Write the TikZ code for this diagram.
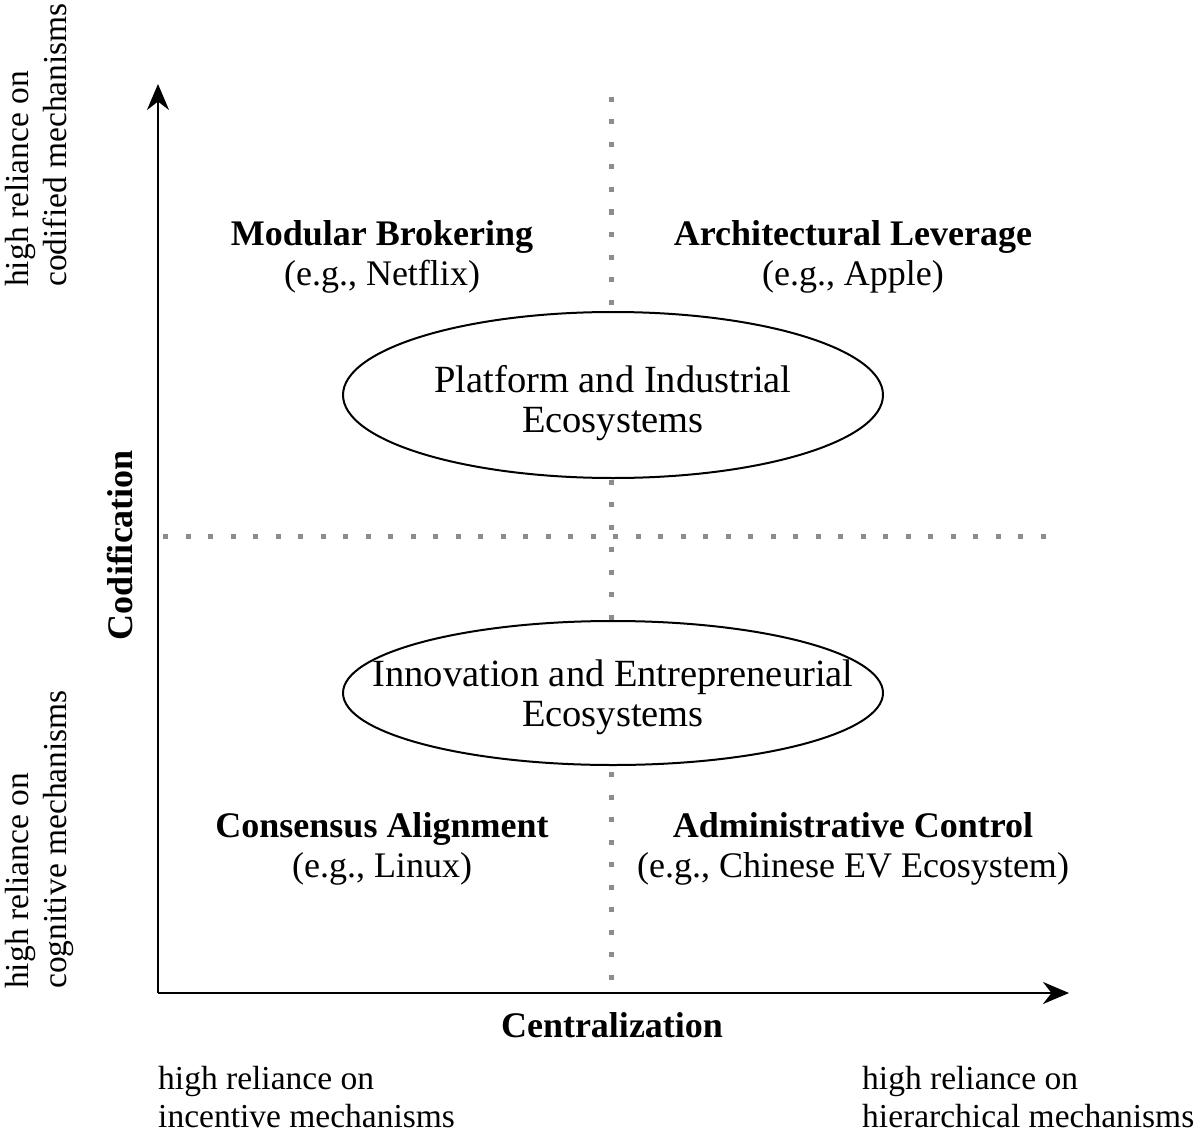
\documentclass[tikz,border=0pt]{standalone}
\usepackage{fontspec}
\setmainfont{Liberation Serif}
\usetikzlibrary{arrows.meta}
\usetikzlibrary{shapes.geometric}
\tikzset{axis/.style={line width=2.5pt, -{Stealth[length=26pt, width=22pt]}}}
\tikzset{grid dots/.style={line width=5pt, draw=black!45, dash pattern=on 5pt off 17.5pt}}
\tikzset{eco/.style={ellipse, draw=black, line width=2pt, fill=white, inner sep=0pt, minimum width=540pt}}
\tikzset{ecotext/.style={align=center, inner sep=0pt, font=\fontsize{38.5}{40}\selectfont}}
\tikzset{quad/.style={align=center, inner sep=0pt, font=\fontsize{36}{40}\selectfont}}
\tikzset{side/.style={align=left, inner sep=0pt, font=\fontsize{33.5}{38}\selectfont}}

\begin{document}
\begin{tikzpicture}[x=1pt, y=-1pt]
  \useasboundingbox (0,0) rectangle (1196,1134);
  % axes
  \coordinate (origin) at (158,993);
  \coordinate (ytip) at (158,84);
  \coordinate (xtip) at (1069,993);
  \coordinate (vtop) at (611,97);
  \coordinate (vbot) at (611,990);
  \coordinate (hleft) at (163,536);
  \coordinate (hright) at (1052,536);
  \draw[grid dots] (vtop) -- (vbot);
  \draw[grid dots] (hleft) -- (hright);
  \draw[axis] (origin) -- (ytip);
  \draw[axis] (origin) -- (xtip);

  % ellipses
  \node[eco, minimum height=166pt] (platform) at (613,395) {};
  \node[ecotext] (platformtext) at ([yshift=-8pt]platform.center)
    {Platform and Industrial\\Ecosystems};
  \node[eco, minimum height=144pt] (innovation) at (613,693) {};
  \node[ecotext] (innovationtext) at ([yshift=-4pt]innovation.center)
    {Innovation and Entrepreneurial\\Ecosystems};

  % quadrants
  \node[quad] (modular) at (382,257) {\textbf{Modular Brokering}\\(e.g., Netflix)};
  \node[quad] (architectural) at (853,257) {\textbf{Architectural Leverage}\\(e.g., Apple)};
  \node[quad] (consensus) at (382,849) {\textbf{Consensus Alignment}\\(e.g., Linux)};
  \node[quad] (administrative) at (853,849) {\textbf{Administrative Control}\\(e.g., Chinese EV Ecosystem)};

  % axis titles
  \node[quad, rotate=90] (codification) at (120,545) {\textbf{Codification}};
  \node[quad] (centralization) at (612,1025) {\textbf{Centralization}};

  % poles
  \node[side, rotate=90, anchor=north west] (codified) at (5,287) {high reliance on\\codified mechanisms};
  \node[side, rotate=90, anchor=north west] (cognitive) at (5,989) {high reliance on\\cognitive mechanisms};
  \node[side, anchor=north west] (incentive) at (158,1066) {high reliance on\\incentive mechanisms};
  \node[side, anchor=north west] (hierarchical) at (862,1066) {high reliance on\\hierarchical mechanisms};
\end{tikzpicture}
\end{document}
